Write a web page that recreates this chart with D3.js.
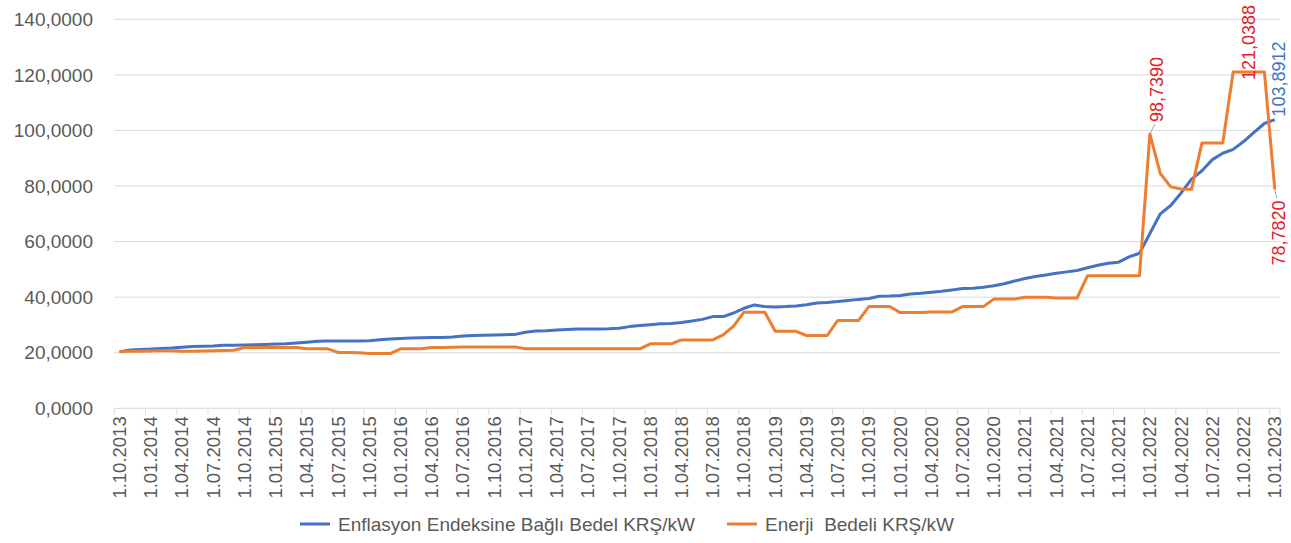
<!doctype html>
<html>
<head>
  <meta charset="utf-8">
  <title>Enflasyon / Enerji Bedeli</title>
  <script src="https://d3js.org/d3.v7.min.js"></script>
  <style>
    body { margin: 0; background: #fff; }
    text { font-family: 'Liberation Sans', Arial, sans-serif; fill: #595959; }
    .grid line { stroke: #d9d9d9; stroke-width: 1; }
    .legend text { white-space: pre; }
  </style>
</head>
<body>
<svg id="chart" width="1291" height="543"></svg>
<script>
// monthly points, 1.10.2013 .. 1.01.2023
const months = d3.range(112).map(i => new Date(2013, 9 + i, 1));

const inflationSeries = [
  20.3, 21.0, 21.2, 21.3, 21.5, 21.7, 22.0, 22.2, 22.3, 22.4,
  22.7, 22.7, 22.8, 22.9, 23.0, 23.1, 23.2, 23.5, 23.8, 24.1,
  24.2, 24.2, 24.2, 24.2, 24.3, 24.7, 24.9, 25.1, 25.3, 25.4,
  25.5, 25.5, 25.7, 26.0, 26.2, 26.3, 26.4, 26.5, 26.6, 27.4,
  27.8, 27.9, 28.2, 28.4, 28.5, 28.5, 28.5, 28.6, 28.8, 29.4,
  29.8, 30.1, 30.4, 30.5, 30.9, 31.4, 32.0, 33.0, 33.0, 34.3,
  36.0, 37.2, 36.6, 36.5, 36.6, 36.8, 37.3, 37.9, 38.1, 38.4,
  38.8, 39.2, 39.5, 40.3, 40.4, 40.6, 41.1, 41.4, 41.8, 42.1,
  42.6, 43.1, 43.2, 43.6, 44.1, 44.8, 45.8, 46.7, 47.4, 48.0,
  48.6, 49.1, 49.6, 50.6, 51.5, 52.2, 52.6, 54.5, 55.8, 62.9,
  70.0, 73.0, 77.5, 82.5, 85.5, 89.5, 91.8, 93.2, 96.0, 99.3,
  102.5, 103.8912
];

const energySeries = [
  20.4, 20.5, 20.5, 20.6, 20.7, 20.7, 20.5, 20.5, 20.6, 20.7,
  20.8, 20.9, 21.9, 21.9, 21.9, 21.9, 21.9, 21.9, 21.4, 21.4,
  21.4, 20.1, 20.1, 20.0, 19.7, 19.7, 19.7, 21.4, 21.4, 21.4,
  21.9, 21.9, 22.0, 22.1, 22.1, 22.1, 22.1, 22.1, 22.1, 21.4,
  21.4, 21.4, 21.4, 21.4, 21.4, 21.4, 21.4, 21.4, 21.4, 21.4,
  21.4, 23.2, 23.2, 23.2, 24.6, 24.6, 24.6, 24.6, 26.4, 29.6,
  34.6, 34.6, 34.6, 27.7, 27.7, 27.7, 26.2, 26.2, 26.2, 31.6,
  31.6, 31.6, 36.6, 36.6, 36.6, 34.5, 34.5, 34.5, 34.7, 34.7,
  34.7, 36.6, 36.6, 36.6, 39.3, 39.3, 39.3, 40.0, 40.0, 40.0,
  39.7, 39.7, 39.7, 47.7, 47.7, 47.7, 47.7, 47.7, 47.7, 98.739,
  84.5, 79.7, 78.9, 78.8, 95.5, 95.5, 95.5, 121.0388, 121.0388, 121.0388,
  121.0388, 78.782
];

const yTicks = [0, 20, 40, 60, 80, 100, 120, 140];
const seriesNames = ["Enflasyon Endeksine Bağlı Bedel KRŞ/kW", "Enerji  Bedeli KRŞ/kW"];
const seriesColors = ["#4472c4", "#ed7d31"];
// point labels: [series, month index]
const pointLabels = [[1, 99], [1, 108], [0, 111], [1, 111]];

const svg = d3.select("#chart");
const plotLeft = 114.3, plotRight = 1280, plotTop = 19.3, plotBottom = 408.3;

const trFormat = d3.formatLocale({decimal: ",", thousands: ".", grouping: [3], currency: ["", ""]}).format(".4f");

const x = d3.scaleBand().domain(d3.range(months.length)).range([plotLeft, plotRight]).paddingInner(0).paddingOuter(0);
const y = d3.scaleLinear().domain([0, 140]).range([plotBottom, plotTop]);
const cx = i => x(i) + x.bandwidth() / 2;

// gridlines + y labels
const grid = svg.append("g").attr("class", "grid");
grid.selectAll("line").data(yTicks).enter().append("line")
  .attr("x1", plotLeft).attr("x2", plotRight)
  .attr("y1", d => y(d)).attr("y2", d => y(d));

svg.append("g").selectAll("text").data(yTicks).enter().append("text")
  .attr("x", 93).attr("y", d => y(d)).attr("dy", "0.35em")
  .attr("text-anchor", "end").style("font-size", "19px")
  .text(d => trFormat(d));

// x ticks at category boundaries, every 3 months
const tickIdx = d3.range(0, months.length, 3);
svg.append("g").selectAll("line").data(tickIdx.concat([months.length])).enter().append("line")
  .attr("x1", d => d < months.length ? x(d) : plotRight).attr("x2", d => d < months.length ? x(d) : plotRight)
  .attr("y1", plotBottom).attr("y2", plotBottom + 6)
  .attr("stroke", "#d9d9d9");

const fmtDate = d => d.getDate() + "." + d3.timeFormat("%m.%Y")(d);
svg.append("g").selectAll("text").data(tickIdx).enter().append("text")
  .attr("transform", d => "translate(" + cx(d) + "," + (plotBottom + 8) + ") rotate(-90)")
  .attr("text-anchor", "end").attr("dy", "0.35em")
  .style("font-size", "18.5px")
  .text(d => fmtDate(months[d]));

// lines
const line = d3.line().x((d, i) => cx(i)).y(d => y(d));
[inflationSeries, energySeries].forEach(function(s, k) {
  svg.append("path").datum(s)
    .attr("d", line)
    .attr("fill", "none")
    .attr("stroke", seriesColors[k])
    .attr("stroke-width", 3)
    .attr("stroke-linejoin", "round");
});

// point labels
const allSeries = [inflationSeries, energySeries];
const labelColors = ["#4472c4", "#e0202b"];
// offsets of each label from its point: dx, dy, anchor, leader
const labelPlace = [
  {dx: 7, dy: -12, anchor: "start", leader: true},
  {dx: 5, dy: 8, anchor: "start", leader: false},
  {dx: 4, dy: -3, anchor: "start", leader: false},
  {dx: 4, dy: 11, anchor: "end", leader: true}
];
pointLabels.forEach(function(p, k) {
  const s = p[0], i = p[1];
  const px = cx(i), py = y(allSeries[s][i]);
  const pl = labelPlace[k];
  if (pl.leader) {
    svg.append("line")
      .attr("x1", px).attr("y1", py)
      .attr("x2", px + pl.dx - 2).attr("y2", py + pl.dy + (pl.dy < 0 ? 2 : -2))
      .attr("stroke", "#a6a6a6").attr("stroke-width", 1);
  }
  svg.append("text")
    .attr("transform", "translate(" + (px + pl.dx) + "," + (py + pl.dy) + ") rotate(-90)")
    .attr("text-anchor", pl.anchor).attr("dy", "0.35em")
    .style("font-size", "18px")
    .style("fill", labelColors[s])
    .text(trFormat(allSeries[s][i]));
});

// legend
const legend = svg.append("g").attr("class", "legend");
const legendX = [300, 727];
seriesNames.forEach(function(name, k) {
  legend.append("line")
    .attr("x1", legendX[k]).attr("x2", legendX[k] + 30)
    .attr("y1", 524).attr("y2", 524)
    .attr("stroke", seriesColors[k]).attr("stroke-width", 3);
  legend.append("text")
    .attr("x", legendX[k] + 38).attr("y", 524).attr("dy", "0.35em")
    .style("font-size", "19px")
    .text(name);
});
</script>
</body>
</html>
